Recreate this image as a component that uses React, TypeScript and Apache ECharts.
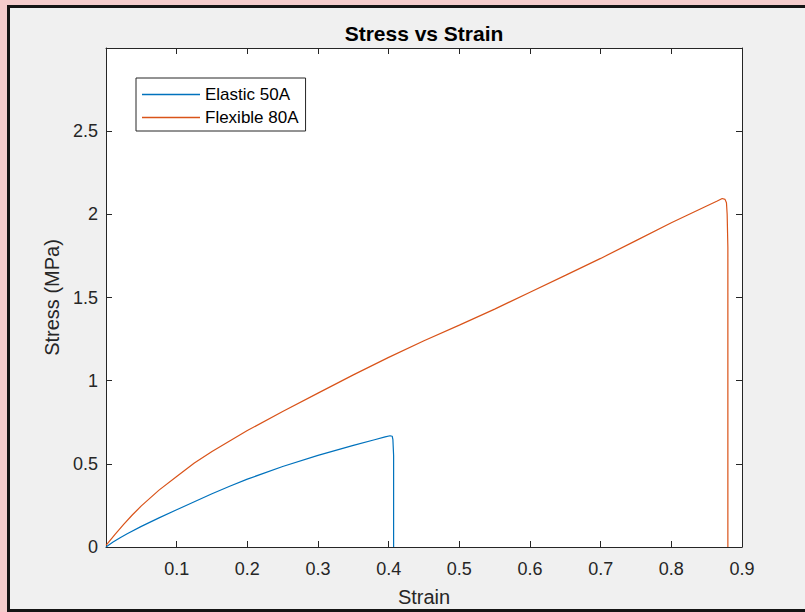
import React, { useEffect, useRef } from "react";
import * as echarts from "echarts";

const elasticStrain = [0, 0.01, 0.02, 0.03, 0.05, 0.075, 0.1, 0.125, 0.15, 0.175, 0.2, 0.25, 0.3, 0.35, 0.38, 0.395, 0.402, 0.405, 0.406, 0.407, 0.407];
const elasticStress = [0, 0.03, 0.056, 0.08, 0.124, 0.175, 0.224, 0.272, 0.32, 0.365, 0.408, 0.484, 0.551, 0.611, 0.645, 0.662, 0.669, 0.666, 0.645, 0.55, 0];

const flexStrain = [0, 0.0125, 0.025, 0.0375, 0.05, 0.075, 0.1, 0.125, 0.15, 0.2, 0.25, 0.3, 0.35, 0.4, 0.45, 0.5, 0.55, 0.6, 0.65, 0.7, 0.75, 0.8, 0.85, 0.865, 0.872, 0.876, 0.878, 0.879, 0.88, 0.88];
const flexStress = [0.01, 0.075, 0.136, 0.194, 0.247, 0.342, 0.424, 0.505, 0.574, 0.7, 0.815, 0.925, 1.035, 1.14, 1.24, 1.334, 1.43, 1.532, 1.633, 1.735, 1.842, 1.949, 2.05, 2.08, 2.095, 2.09, 2.07, 2.0, 1.8, 0];

const seriesNames = ["Elastic 50A", "Flexible 80A"];
const xTicks = { min: 0, max: 0.9, interval: 0.1 };
const yTicks = { min: 0, max: 3, interval: 0.5 };

const FONT = "'Liberation Sans', Arial, Helvetica, sans-serif";
const AX = "#262626";

export default function App() {
  const ref = useRef<HTMLDivElement>(null);
  useEffect(() => {
    if (!ref.current) return;
    const chart = echarts.init(ref.current, undefined, { renderer: "svg" });
    const elastic = elasticStrain.map((x, i) => [x, elasticStress[i]]);
    const flex = flexStrain.map((x, i) => [x, flexStress[i]]);
    const axisCommon = {
      type: "value" as const,
      axisLine: { show: true, onZero: false, lineStyle: { color: AX, width: 1 } },
      axisTick: { show: true, inside: true, length: 6, lineStyle: { color: AX, width: 1 } },
      splitLine: { show: false },
    };
    chart.setOption({
      animation: false,
      backgroundColor: "transparent",
      title: {
        text: "Stress vs Strain",
        left: 424,
        textAlign: "center",
        top: 23,
        padding: 0,
        textStyle: { fontFamily: FONT, fontSize: 21, fontWeight: "bold", color: "#000" },
      },
      legend: {
        orient: "vertical",
        left: 136,
        top: 78,
        padding: [8, 7, 5, 6],
        itemGap: 6,
        itemWidth: 58,
        itemHeight: 1.3,
        icon: "rect",
        backgroundColor: "#fff",
        borderColor: AX,
        borderWidth: 1,
        borderRadius: 0,
        textStyle: { fontFamily: FONT, fontSize: 17, lineHeight: 17, color: "#000" },
        data: seriesNames,
      },
      grid: { left: 106, right: 63, top: 48, bottom: 61, containLabel: false, show: true, backgroundColor: "#fff", borderWidth: 0 },
      xAxis: [
        {
          ...axisCommon,
          ...xTicks,
          position: "bottom",
          name: "Strain",
          nameLocation: "middle",
          nameGap: 40,
          nameTextStyle: { fontFamily: FONT, fontSize: 20, color: AX },
          axisLabel: {
            margin: 13,
            fontFamily: FONT,
            fontSize: 18,
            color: AX,
            formatter: (v: number) => (v === 0 ? "" : String(Math.round(v * 10) / 10)),
          },
        },
        {
          ...axisCommon,
          ...xTicks,
          position: "top",
          axisLabel: { show: false },
        },
      ],
      yAxis: [
        {
          ...axisCommon,
          ...yTicks,
          position: "left",
          name: "Stress (MPa)",
          nameLocation: "middle",
          nameGap: 41,
          nameTextStyle: { fontFamily: FONT, fontSize: 20, color: AX },
          axisLabel: {
            margin: 8,
            fontFamily: FONT,
            fontSize: 18,
            color: AX,
            formatter: (v: number) => (v >= 3 ? "" : String(Math.round(v * 10) / 10)),
          },
        },
        {
          ...axisCommon,
          ...yTicks,
          position: "right",
          axisLabel: { show: false },
        },
      ],
      series: [
        {
          name: seriesNames[0],
          type: "line",
          data: elastic,
          symbol: "none",
          lineStyle: { color: "#0072BD", width: 1.2 },
          itemStyle: { color: "#0072BD" },
        },
        {
          name: seriesNames[1],
          type: "line",
          data: flex,
          symbol: "none",
          lineStyle: { color: "#D95319", width: 1.2 },
          itemStyle: { color: "#D95319" },
        },
      ],
    });
    return () => chart.dispose();
  }, []);

  return (
    <div style={{ position: "fixed", left: 0, top: 0, width: 805, height: 612, background: "#f4cccc", overflow: "hidden" }}>
      <div
        style={{
          position: "absolute",
          left: 7,
          top: 5,
          width: 820,
          height: 620,
          border: "3px solid #141414",
          background: "#f0f0f0",
          boxSizing: "border-box",
        }}
      />
      <div
        style={{
          position: "absolute",
          left: 7,
          bottom: 0,
          width: 820,
          height: 3,
          background: "#141414",
        }}
      />
      <div ref={ref} style={{ position: "absolute", left: 0, top: 0, width: 805, height: 612 }} />
    </div>
  );
}
